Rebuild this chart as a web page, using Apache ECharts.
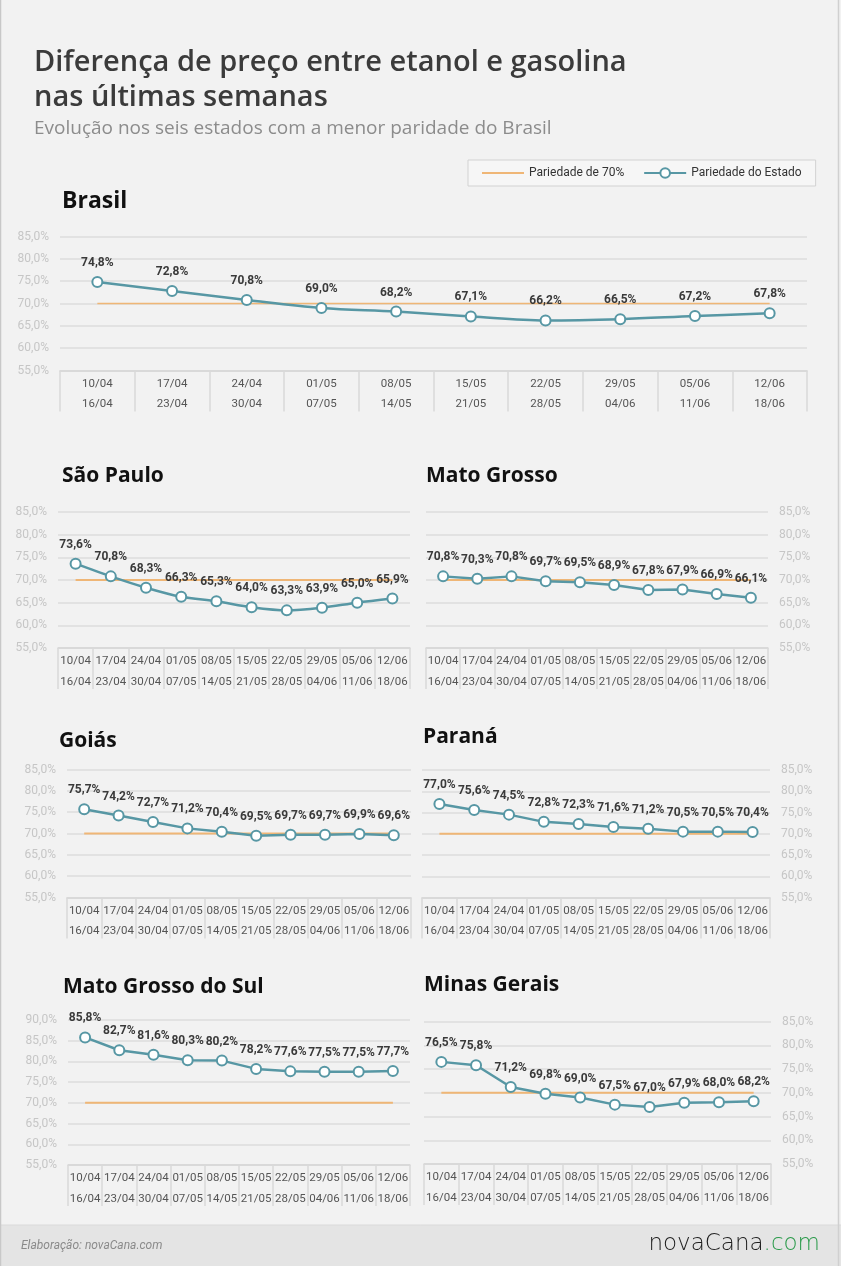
<!DOCTYPE html>
<html lang="pt-BR">
<head>
<meta charset="utf-8">
<title>Diferença de preço entre etanol e gasolina</title>
<script src="https://cdn.jsdelivr.net/npm/echarts@6/dist/echarts.min.js"></script>
<style>
  html, body { margin: 0; padding: 0; background: #f2f2f2; }
  #chart { width: 841px; height: 1266px; }
</style>
</head>
<body>
<div id="chart"></div>
<script>
// semanas (início / fim)
const weekStart = ['10/04', '17/04', '24/04', '01/05', '08/05', '15/05', '22/05', '29/05', '05/06', '12/06'];
const weekEnd = ['16/04', '23/04', '30/04', '07/05', '14/05', '21/05', '28/05', '04/06', '11/06', '18/06'];

// paridade de referência
const parity = [70, 70, 70, 70, 70, 70, 70, 70, 70, 70];

// paridade etanol/gasolina por estado (%)
const brasil = [74.8, 72.8, 70.8, 69.0, 68.2, 67.1, 66.2, 66.5, 67.2, 67.8];
const saoPaulo = [73.6, 70.8, 68.3, 66.3, 65.3, 64.0, 63.3, 63.9, 65.0, 65.9];
const matoGrosso = [70.8, 70.3, 70.8, 69.7, 69.5, 68.9, 67.8, 67.9, 66.9, 66.1];
const goias = [75.7, 74.2, 72.7, 71.2, 70.4, 69.5, 69.7, 69.7, 69.9, 69.6];
const parana = [77.0, 75.6, 74.5, 72.8, 72.3, 71.6, 71.2, 70.5, 70.5, 70.4];
const matoGrossoSul = [85.8, 82.7, 81.6, 80.3, 80.2, 78.2, 77.6, 77.5, 77.5, 77.7];
const minasGerais = [76.5, 75.8, 71.2, 69.8, 69.0, 67.5, 67.0, 67.9, 68.0, 68.2];

const categories = weekStart.map((d, i) => d + '\n' + weekEnd[i]);

const TEAL = '#5797a4';
const ORANGE = '#efb676';

const panels = [
  { name: 'Brasil', data: brasil, max: 85, side: 'left', smooth: 0.35,
    grid: { left: 60, top: 236.5, width: 747, height: 134 }, title: { left: 62, top: 187, size: 23 } },
  { name: 'São Paulo', data: saoPaulo, max: 85, side: 'left', smooth: 0.3,
    grid: { left: 58, top: 512, width: 352, height: 136 }, title: { left: 62, top: 462, size: 21 } },
  { name: 'Mato Grosso', data: matoGrosso, max: 85, side: 'right', smooth: false,
    grid: { left: 426, top: 512, width: 342, height: 136 }, title: { left: 426, top: 462, size: 21 } },
  { name: 'Goiás', data: goias, max: 85, side: 'left', smooth: false,
    grid: { left: 67, top: 769.5, width: 344, height: 128 }, title: { left: 59, top: 727, size: 21 } },
  { name: 'Paraná', data: parana, max: 85, side: 'right', smooth: false,
    grid: { left: 422, top: 770, width: 348, height: 127.5 }, title: { left: 423, top: 723, size: 21 } },
  { name: 'Mato Grosso do Sul', data: matoGrossoSul, max: 90, side: 'left', smooth: false,
    grid: { left: 68, top: 1020, width: 342, height: 145 }, title: { left: 63, top: 973, size: 21 } },
  { name: 'Minas Gerais', data: minasGerais, max: 85, side: 'right', smooth: false,
    grid: { left: 424, top: 1021.5, width: 347, height: 142.5 }, title: { left: 424, top: 971, size: 21 } }
];

const pct = v => v.toFixed(1).replace('.', ',') + '%';

const chart = echarts.init(document.getElementById('chart'), null, { renderer: 'canvas' });

const option = {
  backgroundColor: '#f2f2f2',
  animation: false,
  title: [
    {
      text: 'Diferença de preço entre etanol e gasolina\nnas últimas semanas',
      subtext: 'Evolução nos seis estados com a menor paridade do Brasil',
      left: 34, top: 45, itemGap: 3, padding: 0,
      textStyle: { fontFamily: 'Open Sans', fontWeight: 600, fontSize: 29, lineHeight: 35, color: '#3b3b3b' },
      subtextStyle: { fontFamily: 'Open Sans', fontSize: 19, lineHeight: 22, color: '#8c8c8c' }
    }
  ].concat(panels.map(p => ({
    text: p.name,
    left: p.title.left, top: p.title.top,
    padding: 0,
    textStyle: { fontFamily: 'Open Sans', fontWeight: 700, fontSize: p.title.size, lineHeight: 28, color: '#111' }
  }))),
  legend: {
    left: 468, top: 160,
    padding: [7, 14, 7, 13],
    itemWidth: 42, itemHeight: 12, itemGap: 19,
    backgroundColor: '#f6f6f6',
    borderColor: '#d2d2d2', borderWidth: 1,
    textStyle: { fontFamily: 'Roboto', fontSize: 12, color: '#333' },
    data: [
      { name: 'Pariedade de 70%', itemStyle: { opacity: 0, color: 'transparent', borderColor: 'transparent' } },
      { name: 'Pariedade do Estado' }
    ]
  },
  grid: panels.map(p => p.grid),
  xAxis: panels.map((p, i) => ({
    type: 'category', gridIndex: i, data: categories, boundaryGap: true,
    axisLine: { lineStyle: { color: '#d6d6d6', width: 1.5 } },
    axisTick: { show: true, length: 41, lineStyle: { color: '#d9d9d9', width: 1.5 } },
    axisLabel: { interval: 0, margin: 3, lineHeight: 20.5, fontFamily: 'Roboto', fontSize: 11.5, color: '#555' }
  })),
  yAxis: panels.map((p, i) => ({
    type: 'value', gridIndex: i, position: p.side,
    min: 55, max: p.max, interval: 5,
    axisLine: { show: false }, axisTick: { show: false },
    splitLine: { lineStyle: { color: '#dcdcdc', width: 1.5 } },
    axisLabel: { margin: 11, fontFamily: 'Roboto', fontSize: 12, color: '#c6c6c6', formatter: pct }
  })),
  series: panels.flatMap((p, i) => [
    {
      name: 'Pariedade de 70%', type: 'line', xAxisIndex: i, yAxisIndex: i,
      data: parity, symbol: 'none', z: 2,
      lineStyle: { color: ORANGE, width: i === 0 ? 1.5 : 2 },
      itemStyle: { color: ORANGE }
    },
    {
      name: 'Pariedade do Estado', type: 'line', xAxisIndex: i, yAxisIndex: i,
      data: p.data, smooth: p.smooth, z: 3,
      symbol: 'circle', symbolSize: 10,
      lineStyle: { color: TEAL, width: 2.5 },
      itemStyle: { color: '#ffffff', borderColor: TEAL, borderWidth: 2 },
      label: {
        show: true, position: 'top', distance: 7,
        fontFamily: 'Roboto', fontWeight: 700, fontSize: 12, color: '#3a3a3a',
        formatter: d => pct(d.value)
      }
    }
  ]),
  graphic: [
    { type: 'rect', z: -10, shape: { x: 0, y: 1225, width: 841, height: 41 }, style: { fill: '#e4e4e4' } },
    { type: 'line', z: -9, shape: { x1: 0, y1: 1225, x2: 841, y2: 1225 }, style: { stroke: '#dadada', lineWidth: 1 } },
    { type: 'line', z: 10, shape: { x1: 0.5, y1: 0, x2: 0.5, y2: 1266 }, style: { stroke: '#c8c8c8', lineWidth: 1.5 } },
    { type: 'line', z: 10, shape: { x1: 838.5, y1: 0, x2: 838.5, y2: 1266 }, style: { stroke: '#d0d0d0', lineWidth: 1.5 } },
    {
      type: 'text', left: 21, top: 1240,
      style: { text: 'Elaboração: novaCana.com', font: 'italic 12px Roboto', fill: '#8a8a8a' }
    },
    {
      type: 'text', right: 21, top: 1233,
      style: {
        text: '{a|novaCana}{b|.com}',
        rich: {
          a: { fontFamily: 'DejaVu Sans', fontWeight: 200, fontSize: 23, fill: '#1e1e1e', color: '#1e1e1e' },
          b: { fontFamily: 'DejaVu Sans', fontWeight: 200, fontSize: 23, fill: '#2a9a4a', color: '#2a9a4a' }
        }
      }
    }
  ]
};

chart.setOption(option);
window.addEventListener('resize', () => chart.resize());
</script>
</body>
</html>
